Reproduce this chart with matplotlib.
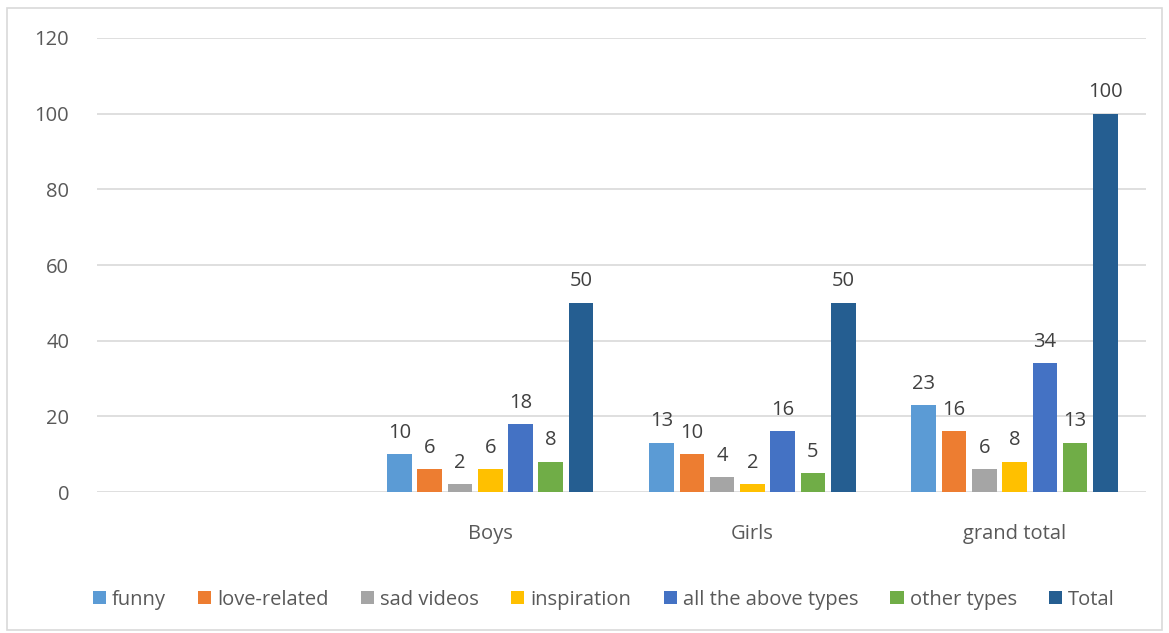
import numpy as np
import matplotlib.pyplot as plt
from matplotlib.patches import Rectangle

plt.rcParams['font.family'] = ['Open Sans', 'DejaVu Sans']

categories = ["", "Boys", "Girls", "grand total"]
series = ["funny", "love-related", "sad videos", "inspiration",
          "all the above types", "other types", "Total"]
funny = [np.nan, 10, 13, 23]
love_related = [np.nan, 6, 10, 16]
sad_videos = [np.nan, 2, 4, 6]
inspiration = [np.nan, 6, 2, 8]
all_above = [np.nan, 18, 16, 34]
other_types = [np.nan, 8, 5, 13]
total = [np.nan, 50, 50, 100]
values = [funny, love_related, sad_videos, inspiration, all_above, other_types, total]
colors = ["#5B9BD5", "#ED7D31", "#A5A5A5", "#FFC000", "#4472C4", "#70AD47", "#255E91"]

fig = plt.figure(figsize=(11.69, 6.33), dpi=100)
ax = fig.add_axes([0.083, 0.2227, 0.897, 0.7173])

x = np.arange(len(categories))
slot = 0.1155
width = 0.094
for i, (name, vals, c) in enumerate(zip(series, values, colors)):
    pos = x + (i - 3) * slot
    ax.bar(pos, vals, width, color=c, label=name, zorder=3)
    for xp, v in zip(pos, vals):
        if not np.isnan(v):
            ax.text(xp, v + 3, f"{v:g}", ha='center', va='bottom',
                    fontsize=14.5, color='#404040')

ax.set_xlim(-0.5, len(categories) - 0.5)
ax.set_ylim(0, 120)
ax.set_yticks(range(0, 121, 20))
ax.set_xticks(x)
ax.set_xticklabels(categories)
ax.tick_params(axis='both', length=0, labelsize=14.5, labelcolor='#595959')
ax.tick_params(axis='x', pad=23)
ax.tick_params(axis='y', pad=20)
ax.grid(axis='y', color='#D9D9D9', lw=1.2, zorder=0)
for s in ax.spines.values():
    s.set_visible(False)

fig.legend(loc='lower left', bbox_to_anchor=(0.064, 0.008), ncol=7, frameon=False,
           fontsize=14.5, labelcolor='#595959', handlelength=0.65, handleheight=0.65,
           handletextpad=0.3, columnspacing=1.6)

fig.patches.append(Rectangle((0.006, 0.004), 0.988, 0.984, transform=fig.transFigure,
                             fill=False, edgecolor='#D9D9D9', lw=1.2))

fig.savefig("out.png", dpi=100)
